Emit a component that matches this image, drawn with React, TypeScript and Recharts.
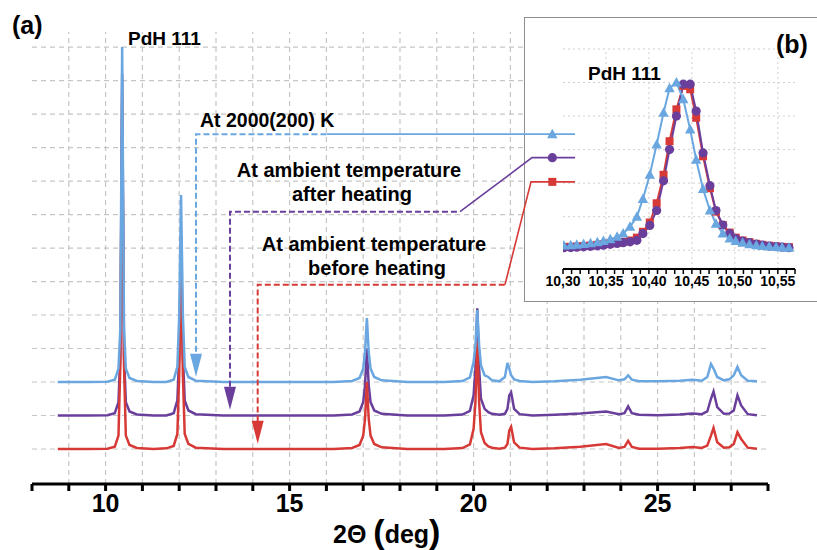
import { LineChart, Line, XAxis, YAxis, ReferenceLine } from 'recharts'

const FONT = '"Liberation Sans", Arial, Helvetica, sans-serif'
const BLUE = '#6aa7e0'
const PURPLE = '#6a3f9c'
const RED = '#d73a36'
const GRID = '#c6c6c6'

// (a) full pattern, offsets of 2 / 1 / 0 already included
const twoTheta = [
  8.7, 9.5, 10.05, 10.25, 10.35, 10.4, 10.45, 10.5, 10.55, 10.65,
  10.85, 11.3, 11.65, 11.85, 11.95, 12.0, 12.05, 12.1, 12.15, 12.25,
  12.45, 13.2, 14.2, 15.2, 16.2, 16.7, 16.9, 17.0, 17.05, 17.1,
  17.15, 17.2, 17.3, 17.5, 18.2, 19.2, 19.7, 19.9, 20.0, 20.05,
  20.1, 20.15, 20.2, 20.3, 20.4, 20.5, 20.7, 20.85, 20.92, 20.97,
  21.02, 21.1, 21.25, 21.6, 22.2, 22.9, 23.6, 23.95, 24.1, 24.2,
  24.3, 24.5, 25.0, 25.6, 25.95, 26.2, 26.35, 26.45, 26.52, 26.62,
  26.8, 26.95, 27.07, 27.17, 27.27, 27.45, 27.7,
]
const at2000K = [
  2.0, 2.0, 2.01, 2.07, 2.4, 3.6, 12.0, 3.6, 2.4, 2.12,
  2.03, 2.0, 2.0, 2.07, 2.45, 4.0, 7.58, 4.0, 2.45, 2.15,
  2.04, 2.0, 2.0, 2.0, 2.0, 2.03, 2.12, 2.4, 2.9, 3.91,
  2.9, 2.4, 2.15, 2.05, 2.0, 2.0, 2.03, 2.14, 2.6, 3.1,
  4.15, 3.1, 2.5, 2.2, 2.15, 2.05, 2.02, 2.15, 2.57, 2.4,
  2.2, 2.08, 2.03, 2.0, 2.02, 2.07, 2.15, 2.05, 2.08, 2.2,
  2.07, 2.02, 2.02, 2.04, 2.07, 2.04, 2.15, 2.54, 2.4, 2.15,
  2.05, 2.08, 2.2, 2.45, 2.2, 2.04, 2.02,
]
const ambientAfter = [
  1.0, 1.0, 1.01, 1.07, 1.4, 2.8, 11.2, 2.8, 1.4, 1.12,
  1.03, 1.0, 1.0, 1.07, 1.45, 2.8, 6.4, 2.8, 1.45, 1.15,
  1.04, 1.0, 1.0, 1.0, 1.0, 1.03, 1.12, 1.4, 1.9, 3.0,
  1.9, 1.4, 1.15, 1.05, 1.0, 1.0, 1.03, 1.14, 1.6, 2.4,
  4.2, 2.4, 1.5, 1.2, 1.1, 1.05, 1.02, 1.05, 1.2, 1.6,
  1.69, 1.2, 1.04, 1.0, 1.02, 1.06, 1.12, 1.04, 1.07, 1.27,
  1.07, 1.02, 1.01, 1.03, 1.06, 1.04, 1.12, 1.5, 1.72, 1.25,
  1.05, 1.06, 1.15, 1.6, 1.3, 1.04, 1.01,
]
const ambientBefore = [
  0, 0, 0.01, 0.07, 0.4, 2.5, 10.5, 2.5, 0.4, 0.12,
  0.03, 0, 0.02, 0.09, 0.45, 2.2, 5.6, 2.2, 0.45, 0.15,
  0.04, 0, 0, 0, 0, 0.03, 0.12, 0.4, 0.9, 2.0,
  0.9, 0.4, 0.15, 0.05, 0, 0, 0.03, 0.14, 0.6, 1.4,
  3.2, 1.4, 0.5, 0.18, 0.08, 0.04, 0.01, 0.04, 0.15, 0.55,
  0.66, 0.2, 0.04, 0, 0.02, 0.07, 0.15, 0.03, 0.06, 0.24,
  0.06, 0.01, 0.01, 0.03, 0.06, 0.03, 0.1, 0.4, 0.63, 0.2,
  0.04, 0.05, 0.15, 0.5, 0.3, 0.04, 0.01,
]
const mainTicks = [8, 9, 10, 11, 12, 13, 14, 15, 16, 17, 18, 19, 20, 21, 22, 23, 24, 25, 26, 27, 28]
const mainGridX = [9, 10, 11, 12, 13, 14, 15, 16, 17, 18, 19, 20, 21, 22, 23, 24, 25, 26, 27]
const mainGridY = [0, 1, 2, 3, 4, 5, 6, 7, 8, 9, 10, 11, 12]

// (b) zoom on PdH 111, normalised
const insetTheta = [
  10.301, 10.309, 10.316, 10.324, 10.332, 10.34, 10.347, 10.355, 10.363, 10.37,
  10.378, 10.386, 10.393, 10.401, 10.409, 10.417, 10.424, 10.432, 10.44, 10.448,
  10.455, 10.463, 10.471, 10.478, 10.486, 10.494, 10.501, 10.509, 10.517, 10.525,
  10.532, 10.54, 10.548, 10.555, 10.563,
]
const insetHot = [
  0.028, 0.03, 0.033, 0.037, 0.042, 0.048, 0.055, 0.065, 0.08, 0.1,
  0.14, 0.2, 0.306, 0.45, 0.63, 0.82, 0.966, 1.0, 0.9, 0.72,
  0.54, 0.365, 0.237, 0.158, 0.1, 0.07, 0.055, 0.045, 0.036, 0.03,
  0.025, 0.022, 0.019, 0.016, 0.014,
]
const insetAfter = [
  0.015, 0.016, 0.018, 0.02, 0.023, 0.026, 0.03, 0.035, 0.04, 0.045,
  0.05, 0.059, 0.099, 0.148, 0.237, 0.414, 0.6, 0.8, 0.99, 0.99,
  0.83, 0.58, 0.385, 0.237, 0.15, 0.1, 0.07, 0.055, 0.045, 0.036,
  0.03, 0.025, 0.021, 0.018, 0.015,
]
const insetBefore = [
  0.02, 0.02, 0.022, 0.025, 0.028, 0.032, 0.036, 0.04, 0.045, 0.05,
  0.058, 0.075, 0.11, 0.165, 0.28, 0.45, 0.65, 0.84, 0.98, 0.96,
  0.79, 0.56, 0.37, 0.23, 0.15, 0.105, 0.075, 0.058, 0.048, 0.038,
  0.032, 0.027, 0.023, 0.02, 0.018,
]
const insetTicks = [
  10.3, 10.31, 10.32, 10.33, 10.34, 10.35, 10.36, 10.37, 10.38, 10.39,
  10.4, 10.41, 10.42, 10.43, 10.44, 10.45, 10.46, 10.47, 10.48, 10.49,
  10.5, 10.51, 10.52, 10.53, 10.54, 10.55, 10.56, 10.57,
]
const insetGridX = [10.35, 10.4, 10.45, 10.5, 10.55]
const insetGridY = [0, 0.2, 0.4, 0.6, 0.8, 1.0, 1.2]

// callouts from the labels to the inset legend (in axis units of panel a)
const hotDashed = [{ x: 12.457, y: 2.905 }, { x: 12.457, y: 9.4 }, { x: 16.016, y: 9.4 }]
const hotSolid = [{ x: 16.016, y: 9.4 }, { x: 22.755, y: 9.4 }]
const afterDashed = [{ x: 13.38, y: 1.86 }, { x: 13.38, y: 7.086 }, { x: 19.63, y: 7.086 }]
const afterSolid = [{ x: 19.63, y: 7.086 }, { x: 21.587, y: 8.698 }, { x: 22.755, y: 8.698 }]
const beforeDashed = [{ x: 14.133, y: 0.818 }, { x: 14.133, y: 4.906 }, { x: 20.853, y: 4.906 }]
const beforeSolid = [{ x: 20.853, y: 4.906 }, { x: 21.56, y: 7.976 }, { x: 22.755, y: 7.976 }]
const hotArrow = [{ x: 12.457, y: 2.159 }]
const afterArrow = [{ x: 13.38, y: 1.174 }]
const beforeArrow = [{ x: 14.133, y: 0.158 }]
const hotKey = [{ x: 22.139, y: 9.4 }]
const afterKey = [{ x: 22.139, y: 8.698 }]
const beforeKey = [{ x: 22.139, y: 7.976 }]

const toPoints = (xs: number[], ys: number[]) => xs.map((x, i) => ({ x, y: ys[i] }))

const triangle = (color: string) => (p: any) => (
  <polygon
    key={`t-${p.index}`}
    points={`${p.cx},${p.cy - 5.5} ${p.cx - 5.2},${p.cy + 4} ${p.cx + 5.2},${p.cy + 4}`}
    fill={color}
  />
)
const circle = (color: string) => (p: any) => (
  <circle key={`c-${p.index}`} cx={p.cx} cy={p.cy} r={4.6} fill={color} />
)
const square = (color: string) => (p: any) => (
  <rect key={`s-${p.index}`} x={p.cx - 4} y={p.cy - 4} width={8} height={8} fill={color} />
)
const arrowHead = (color: string) => (p: any) => (
  <polygon
    key={`a-${p.index}`}
    points={`${p.cx},${p.cy} ${p.cx - 6},${p.cy - 23} ${p.cx + 6},${p.cy - 23}`}
    fill={color}
  />
)

const MAIN_MARGIN = { top: 32, right: 49, bottom: 16, left: 32 }
const Y_DOMAIN: [number, number] = [-1.045, 12.45]

const MainPanel = () => (
  <LineChart width={817} height={550} margin={MAIN_MARGIN}>
    <XAxis
      type="number"
      dataKey="x"
      domain={[8, 28]}
      ticks={mainTicks}
      interval={0}
      allowDataOverflow
      height={50}
      tickSize={7}
      tickMargin={3}
      tickFormatter={(v: number) => (v % 5 === 0 ? String(v) : '')}
      axisLine={{ stroke: '#000', strokeWidth: 3 }}
      tickLine={{ stroke: '#000', strokeWidth: 3 }}
      tick={{ fill: '#000', fontSize: 25, fontWeight: 'bold', fontFamily: FONT }}
    />
    <YAxis hide width={0} type="number" domain={Y_DOMAIN} allowDataOverflow />
    {mainGridX.map((v) => (
      <ReferenceLine key={`gx${v}`} x={v} stroke={GRID} strokeWidth={1.2} strokeDasharray="5 4" />
    ))}
    {mainGridY.map((v) => (
      <ReferenceLine key={`gy${v}`} y={v} stroke={GRID} strokeWidth={1.2} strokeDasharray="5 4" />
    ))}
    <Line data={toPoints(twoTheta, ambientAfter)} dataKey="y" stroke={PURPLE} strokeWidth={2.5} dot={false} activeDot={false} isAnimationActive={false} />
    <Line data={toPoints(twoTheta, ambientBefore)} dataKey="y" stroke={RED} strokeWidth={2.5} dot={false} activeDot={false} isAnimationActive={false} />
    <Line data={toPoints(twoTheta, at2000K)} dataKey="y" stroke={BLUE} strokeWidth={2.5} dot={false} activeDot={false} isAnimationActive={false} />
  </LineChart>
)

const InsetPanel = () => (
  <div
    style={{
      position: 'absolute',
      left: 524,
      top: 17,
      width: 300,
      height: 285,
      background: '#fff',
      border: '1.5px solid #8e8e8e',
      boxSizing: 'border-box',
    }}
  >
    <div style={{ position: 'absolute', left: -1.5, top: -1.5 }}>
      <LineChart width={290} height={285} margin={{ top: 32, right: 19, bottom: 8, left: 39 }}>
        <XAxis
          type="number"
          dataKey="x"
          domain={[10.3, 10.57]}
          ticks={insetTicks}
          interval={0}
          allowDataOverflow
          height={25}
          tickSize={5}
          tickMargin={2}
          tickFormatter={(v: number) => {
            const c = Math.round(v * 100)
            return c % 5 === 0 ? (c / 100).toFixed(2).replace('.', ',') : ''
          }}
          axisLine={{ stroke: '#000', strokeWidth: 2 }}
          tickLine={{ stroke: '#000', strokeWidth: 1.5 }}
          tick={{ fill: '#000', fontSize: 14, fontWeight: 'bold', fontFamily: FONT }}
        />
        <YAxis hide width={0} type="number" domain={[-0.112, 1.2]} allowDataOverflow />
        {insetGridX.map((v) => (
          <ReferenceLine key={`ix${v}`} x={v} stroke="#cfcfcf" strokeDasharray="2 3" />
        ))}
        {insetGridY.map((v) => (
          <ReferenceLine key={`iy${v}`} y={v} stroke="#cfcfcf" strokeDasharray="2 3" />
        ))}
        <Line data={toPoints(insetTheta, insetBefore)} dataKey="y" stroke={RED} strokeWidth={2} dot={square(RED)} activeDot={false} isAnimationActive={false} />
        <Line data={toPoints(insetTheta, insetAfter)} dataKey="y" stroke={PURPLE} strokeWidth={2} dot={circle(PURPLE)} activeDot={false} isAnimationActive={false} />
        <Line data={toPoints(insetTheta, insetHot)} dataKey="y" stroke={BLUE} strokeWidth={2} dot={triangle(BLUE)} activeDot={false} isAnimationActive={false} />
      </LineChart>
    </div>
  </div>
)

const CalloutLayer = () => (
  <div style={{ position: 'absolute', left: 0, top: 0, pointerEvents: 'none' }}>
    <LineChart width={817} height={550} margin={{ top: 32, right: 49, bottom: 66, left: 32 }}>
      <XAxis hide height={0} type="number" dataKey="x" domain={[8, 28]} allowDataOverflow />
      <YAxis hide width={0} type="number" domain={Y_DOMAIN} allowDataOverflow />
      <Line data={hotDashed} dataKey="y" stroke={BLUE} strokeWidth={2} strokeDasharray="6 3" dot={false} activeDot={false} isAnimationActive={false} />
      <Line data={hotSolid} dataKey="y" stroke={BLUE} strokeWidth={1.6} dot={false} activeDot={false} isAnimationActive={false} />
      <Line data={afterDashed} dataKey="y" stroke={PURPLE} strokeWidth={2} strokeDasharray="6 3" dot={false} activeDot={false} isAnimationActive={false} />
      <Line data={afterSolid} dataKey="y" stroke={PURPLE} strokeWidth={1.6} dot={false} activeDot={false} isAnimationActive={false} />
      <Line data={beforeDashed} dataKey="y" stroke={RED} strokeWidth={2} strokeDasharray="6 3" dot={false} activeDot={false} isAnimationActive={false} />
      <Line data={beforeSolid} dataKey="y" stroke={RED} strokeWidth={1.6} dot={false} activeDot={false} isAnimationActive={false} />
      <Line data={hotArrow} dataKey="y" stroke="none" dot={arrowHead(BLUE)} activeDot={false} isAnimationActive={false} />
      <Line data={afterArrow} dataKey="y" stroke="none" dot={arrowHead(PURPLE)} activeDot={false} isAnimationActive={false} />
      <Line data={beforeArrow} dataKey="y" stroke="none" dot={arrowHead(RED)} activeDot={false} isAnimationActive={false} />
      <Line data={hotKey} dataKey="y" stroke="none" dot={triangle(BLUE)} activeDot={false} isAnimationActive={false} />
      <Line data={afterKey} dataKey="y" stroke="none" dot={circle(PURPLE)} activeDot={false} isAnimationActive={false} />
      <Line data={beforeKey} dataKey="y" stroke="none" dot={square(RED)} activeDot={false} isAnimationActive={false} />
    </LineChart>
  </div>
)

const Labels = () => (
  <svg
    width={817}
    height={550}
    style={{ position: 'absolute', left: 0, top: 0, pointerEvents: 'none' }}
    fontFamily={FONT}
    fontWeight="bold"
    fill="#000"
  >
    <text x={12} y={34} fontSize={25}>(a)</text>
    <text x={128} y={45} fontSize={19}>PdH 111</text>
    <text x={200} y={127} fontSize={19.5}>At 2000(200) K</text>
    <text x={349} y={177} fontSize={20} textAnchor="middle">At ambient temperature</text>
    <text x={352} y={201} fontSize={20} textAnchor="middle">after heating</text>
    <text x={374} y={251} fontSize={20} textAnchor="middle">At ambient temperature</text>
    <text x={377} y={275} fontSize={20} textAnchor="middle">before heating</text>
    <text x={776} y={53} fontSize={25}>(b)</text>
    <text x={588} y={80} fontSize={19}>PdH 111</text>
    <text x={333} y={543}>
      <tspan fontSize={25}>2Θ </tspan>
      <tspan fontSize={34}>(</tspan>
      <tspan fontSize={25}>deg</tspan>
      <tspan fontSize={34}>)</tspan>
    </text>
  </svg>
)

export default function App() {
  return (
    <div
      style={{
        position: 'absolute',
        left: 0,
        top: 0,
        width: 817,
        height: 550,
        overflow: 'hidden',
        background: '#fff',
        fontFamily: FONT,
      }}
    >
      <MainPanel />
      <InsetPanel />
      <CalloutLayer />
      <Labels />
    </div>
  )
}
